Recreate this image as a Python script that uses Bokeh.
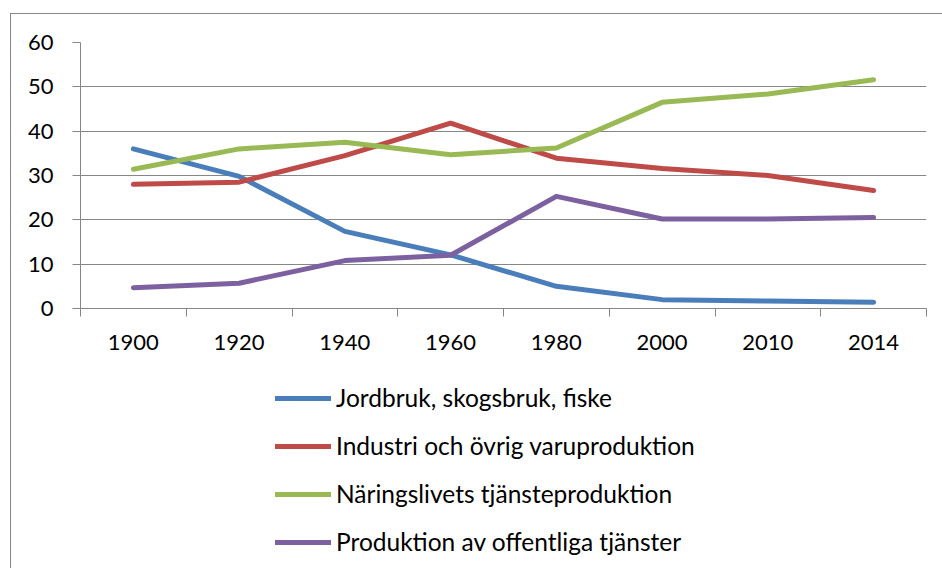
from bokeh.plotting import figure
from bokeh.layouts import column
from bokeh.models import Range1d, FixedTicker, Legend, LegendItem
from bokeh.embed import file_html
from bokeh.resources import INLINE

years = ["1900", "1920", "1940", "1960", "1980", "2000", "2010", "2014"]
jordbruk = [36.0, 29.8, 17.4, 12.1, 5.0, 2.0, 1.7, 1.4]
industri = [28.0, 28.5, 34.5, 41.8, 33.9, 31.6, 30.0, 26.6]
naringsliv = [31.4, 36.0, 37.5, 34.7, 36.2, 46.5, 48.4, 51.6]
offentlig = [4.7, 5.7, 10.8, 12.0, 25.3, 20.2, 20.2, 20.5]
series_names = ["Jordbruk, skogsbruk, fiske", "Industri och övrig varuproduktion",
                "Näringslivets tjänsteproduktion", "Produktion av offentliga tjänster"]
colors = ["#4A7EBB", "#BE4B48", "#98B954", "#7D60A0"]
y_ticks = [0, 10, 20, 30, 40, 50, 60]

FONT = "Lato"
GRAY = "#868686"
LW = 5

n = len(years)
xc = [i + 0.5 for i in range(n)]

p = figure(width=931, height=356, output_backend="svg", toolbar_location=None,
           x_range=Range1d(0, n), y_range=Range1d(0, 60),
           min_border_left=69, min_border_right=16, min_border_top=28, min_border_bottom=62)
p.outline_line_color = None
p.background_fill_color = "white"
p.border_fill_color = "white"

p.xgrid.visible = False
p.ygrid.grid_line_color = GRAY
p.ygrid.grid_line_width = 1
p.ygrid.ticker = FixedTicker(ticks=y_ticks)

xa = p.xaxis[0]
xa.ticker = FixedTicker(ticks=xc, minor_ticks=list(range(n + 1)))
xa.major_label_overrides = {x: y for x, y in zip(xc, years)}
xa.major_tick_out = 0
xa.major_tick_in = 0
xa.minor_tick_out = 8
xa.minor_tick_in = 0
xa.minor_tick_line_color = GRAY
xa.axis_line_color = GRAY
xa.major_label_text_font = FONT
xa.major_label_text_font_size = "22px"
xa.major_label_text_color = "black"
xa.major_label_standoff = 18

ya = p.yaxis[0]
ya.ticker = FixedTicker(ticks=y_ticks)
ya.major_tick_out = 8
ya.major_tick_in = 0
ya.minor_tick_out = 0
ya.minor_tick_in = 0
ya.major_tick_line_color = GRAY
ya.axis_line_color = GRAY
ya.major_label_text_font = FONT
ya.major_label_text_font_size = "22px"
ya.major_label_text_color = "black"
ya.major_label_standoff = 19

for vals, c in zip([jordbruk, industri, naringsliv, offentlig], colors):
    p.line(xc, vals, line_color=c, line_width=LW, line_cap="round", line_join="round")

# legend panel below the chart (legend-only placeholder renderers, styled like the series)
lf = figure(width=931, height=198, output_backend="svg", toolbar_location=None,
            x_axis_location=None, y_axis_location=None,
            x_range=Range1d(0, 1), y_range=Range1d(0, 1),
            min_border_left=0, min_border_right=0, min_border_top=0, min_border_bottom=0)
lf.outline_line_color = None
lf.grid.visible = False
lf.background_fill_color = "white"
lf.border_fill_color = "white"

items = []
for name, c in zip(series_names, colors):
    r = lf.line(x=[float("nan")], y=[float("nan")], line_color=c, line_width=LW, line_cap="round")
    items.append(LegendItem(label=name, renderers=[r]))

legend = Legend(items=items, orientation="vertical", location=(195, 12),
                label_text_font=FONT, label_text_font_size="24.5px", label_text_color="black",
                glyph_width=56, glyph_height=24, label_height=24, label_standoff=5,
                spacing=19, padding=0, margin=0, border_line_color=None,
                background_fill_alpha=0)
lf.add_layout(legend)

layout = column(p, lf, spacing=0, margin=(13, 0, 0, 10),
                styles={"border-left": "1px solid #868686", "border-top": "1px solid #868686"})

open("out.html", "w").write(file_html(layout, INLINE))
